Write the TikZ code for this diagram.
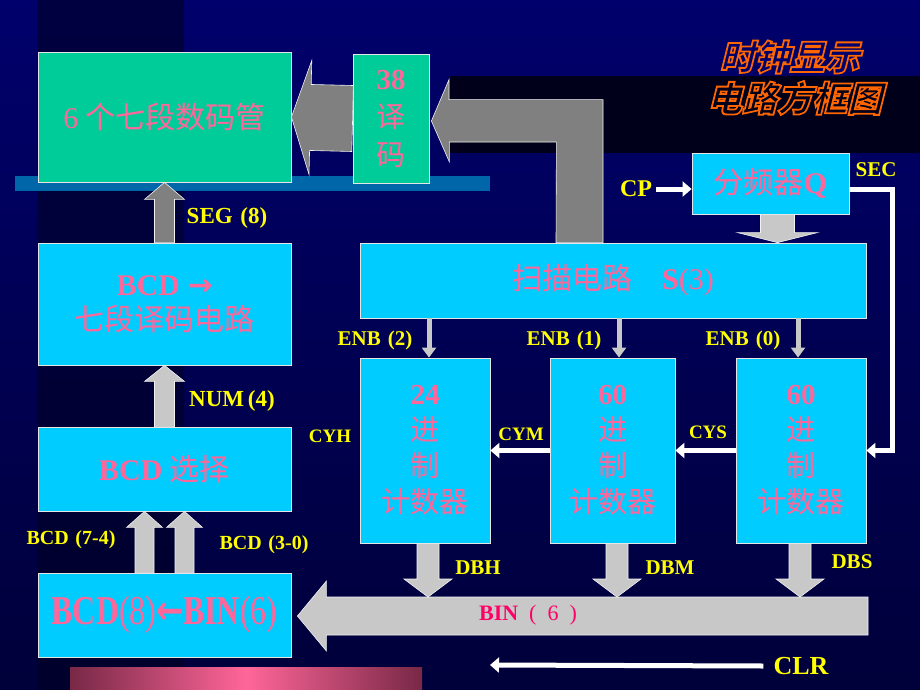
\documentclass[tikz,border=0pt]{standalone}
\usepackage{fontspec}
\usepackage{graphicx}
\setmainfont{Liberation Serif}
\newfontfamily\cjk{Noto Sans CJK SC}
\newfontfamily\symfont{DejaVu Sans}
\usetikzlibrary{arrows.meta,calc}

\definecolor{navytop}{RGB}{0,0,108}
\definecolor{navybot}{RGB}{0,0,58}
\definecolor{navyband}{RGB}{0,0,36}
\definecolor{nightbox}{RGB}{0,0,26}
\definecolor{stripe}{RGB}{0,102,170}
\definecolor{boxcyan}{RGB}{0,204,255}
\definecolor{boxgreen}{RGB}{0,204,153}
\definecolor{txtpink}{RGB}{255,102,153}
\definecolor{binred}{RGB}{255,0,102}
\definecolor{tagyellow}{RGB}{255,255,0}
\definecolor{pipelight}{RGB}{200,200,200}
\definecolor{pipedark}{RGB}{128,128,128}
\definecolor{barrose}{RGB}{255,102,153}
\definecolor{barplum}{RGB}{120,40,70}

\newcommand\zh[1]{{\cjk #1}}
\newcommand\arrowR{{\symfont\bfseries →}}
\newcommand\arrowL{{\symfont\bfseries ←}}
% orange outlined letters, filled with #1
\newcommand\hollow[2]{\textcolor{#1}{\special{pdf:literal direct 2 Tr 1.8 w 1 0.4 0 RG}#2\special{pdf:literal direct 0 Tr}}}

% fat arrow from #2 to #3: body half width, head half width, head length
\newcommand\fatarrow[6][]{%
  \coordinate (fa-h) at ($(#3)!#6!(#2)$);
  \filldraw[#1] ($(#2)!#4!90:(#3)$) -- ($(fa-h)!#4!90:(#3)$) -- ($(fa-h)!#5!90:(#3)$)
    -- (#3) -- ($(fa-h)!#5!-90:(#3)$) -- ($(fa-h)!#4!-90:(#3)$) -- ($(#2)!#4!-90:(#3)$) -- cycle;}

\tikzset{
  block/.style={draw=white!90!black, line width=0.8pt, fill=boxcyan, text=txtpink,
    inner sep=0pt, align=center, font=\fontsize{29}{36}\selectfont},
  gblock/.style={block, fill=boxgreen},
  tag/.style={text=tagyellow, inner sep=0pt, font=\bfseries\fontsize{21}{21}\selectfont},
  pipe/.style={fill=pipelight, draw=white!95!black, line width=0.6pt},
  darkpipe/.style={pipe, fill=pipedark},
  wire/.style={draw=white, line width=5pt, -{Triangle[length=9pt,width=15pt]}},
  enbline/.style={draw=pipelight, line width=5pt, -{Triangle[length=10pt,width=14pt]}},
  heading/.style={xslant=0.25, inner sep=0pt, font=\cjk\bfseries\fontsize{35}{35}\selectfont},
}

\begin{document}
\begin{tikzpicture}[x=1pt,y=-1pt]
  % backdrop
  \useasboundingbox (0,0) rectangle (920,690);
  \shade[top color=navytop, bottom color=navybot] (0,0) rectangle (920,690);
  \fill[navyband, opacity=0.6] (37,0) rectangle (184,690);
  \fill[nightbox] (450,76) rectangle (920,153);
  \fill[stripe] (15,176) rectangle (490,191);
  \shade[left color=barplum, right color=barplum, middle color=barrose] (70,667) rectangle (422,690);

  % blocks
  \node[gblock, minimum width=253, minimum height=130, font=\fontsize{30}{36}\selectfont]
    (disp) at (164.5,117) {6 \zh{个七段数码管}};
  \node[gblock, minimum width=76, minimum height=129, font=\fontsize{29}{38}\selectfont]
    (dec38) at (391,118.5) {\textbf{38}\\\zh{译}\\\zh{码}};
  \node[block, minimum width=253, minimum height=122, font=\fontsize{30}{35}\selectfont]
    (seg) at (164.5,304) {\textbf{BCD \arrowR}\\\zh{七段译码电路}};
  \node[block, minimum width=253, minimum height=84, font=\fontsize{30}{36}\selectfont]
    (sel) at (164.5,469) {\textbf{BCD} \zh{选择}};
  \node[block, minimum width=253, minimum height=84]
    (conv) at (164.5,615) {\scalebox{0.78}[1]{\fontsize{41}{41}\selectfont\textbf{BCD}(8)\arrowL\textbf{BIN}(6)}};
  \node[block, minimum width=157, minimum height=61, font=\fontsize{30}{36}\selectfont]
    (divq) at (770.5,183.5) {\zh{分频器}\textbf{Q}};
  \node[block, minimum width=506, minimum height=75, font=\fontsize{30}{36}\selectfont]
    (scan) at (613,280.5) {\zh{扫描电路}\quad\textbf{S}(3)};
  \node[block, minimum width=130, minimum height=185] (cntH) at (425,450.5)
    {\textbf{24}\\\zh{进}\\\zh{制}\\\zh{计数器}};
  \node[block, minimum width=125, minimum height=185] (cntM) at (612.5,450.5)
    {\textbf{60}\\\zh{进}\\\zh{制}\\\zh{计数器}};
  \node[block, minimum width=130, minimum height=185] (cntS) at (801,450.5)
    {\textbf{60}\\\zh{进}\\\zh{制}\\\zh{计数器}};

  % buses
  \fatarrow[darkpipe]{dec38.west}{disp.east}{33pt}{57pt}{19pt}
  \filldraw[darkpipe] ([xshift=-10pt]scan.north) -- ++(0,-143) -- ++(-154,0) -- ++(0,-20)
    -- ([xshift=2pt,yshift=-2.5pt]dec38.east) -- ++(18,41) -- ++(0,-20) -- ++(107,0)
    -- ([xshift=-57pt]scan.north) -- cycle;
  \fatarrow[darkpipe]{seg.north}{disp.south}{10pt}{20pt}{17pt}
  \fatarrow[pipe]{sel.north}{seg.south}{10pt}{20pt}{16pt}
  \coordinate (hiA) at ([xshift=-20pt]conv.north);
  \coordinate (hiB) at (hiA |- sel.south);
  \coordinate (loA) at ([xshift=20pt]conv.north);
  \coordinate (loB) at (loA |- sel.south);
  \fatarrow[pipe]{hiA}{hiB}{9.5pt}{18pt}{16pt}
  \fatarrow[pipe]{loA}{loB}{9.5pt}{18pt}{16pt}
  \coordinate (qa) at ([xshift=7pt]divq.south);
  \coordinate (qb) at (qa |- scan.north);
  \fatarrow[pipe]{qa}{qb}{17pt}{40pt}{10pt}

  \coordinate (binR) at (868,616);
  \coordinate (binTop) at (868,597);
  \coordinate (binL) at ($(conv.east |- binR)+(6,0)$);
  \fatarrow[pipe]{binR}{binL}{19pt}{35pt}{29pt}
  \coordinate (dbhA) at ([xshift=3pt]cntH.south);
  \coordinate (dbmA) at ([xshift=4.5pt]cntM.south);
  \coordinate (dbsA) at ([xshift=-1pt]cntS.south);
  \fatarrow[pipe]{dbhA}{dbhA |- binTop}{11pt}{24pt}{18pt}
  \fatarrow[pipe]{dbmA}{dbmA |- binTop}{11pt}{24pt}{18pt}
  \fatarrow[pipe]{dbsA}{dbsA |- binTop}{11pt}{24pt}{18pt}

  % enables
  \coordinate (enH) at ([xshift=4pt]cntH.north);
  \coordinate (enM) at ([xshift=6.5pt]cntM.north);
  \coordinate (enS) at ([xshift=-3pt]cntS.north);
  \draw[enbline] (enH |- scan.south) -- (enH);
  \draw[enbline] (enM |- scan.south) -- (enM);
  \draw[enbline] (enS |- scan.south) -- (enS);

  % labels
  \node[tag, font=\bfseries\fontsize{23}{23}\selectfont] (segtag) at (227,218) {SEG\,\,(8)};
  \node[tag, font=\bfseries\fontsize{23}{23}\selectfont] (numtag) at (232,401) {NUM\,(4)};
  \node[tag, font=\bfseries\fontsize{20}{20}\selectfont] (hitag) at (71,540) {BCD\,\,(7-4)};
  \node[tag, font=\bfseries\fontsize{20}{20}\selectfont] (lotag) at (264,545) {BCD\,\,(3-0)};
  \node[tag] (enHtag) at (375,340) {ENB\,\,(2)};
  \node[tag] (enMtag) at (564,340) {ENB\,\,(1)};
  \node[tag] (enStag) at (743,340) {ENB\,\,(0)};
  \node[tag, font=\bfseries\fontsize{19}{19}\selectfont] (cyh) at (330,436) {CYH};
  \node[tag, font=\bfseries\fontsize{19}{19}\selectfont] (cym) at (521,434) {CYM};
  \node[tag, font=\bfseries\fontsize{19}{19}\selectfont] (cys) at (708,432) {CYS};
  \node[tag] (dbh) at (478,568) {DBH};
  \node[tag] (dbm) at (670,568) {DBM};
  \node[tag] (dbs) at (852,562) {DBS};
  \node[tag, font=\bfseries\fontsize{24}{24}\selectfont] (cp) at (636,189) {CP};
  \node[tag, font=\bfseries\fontsize{21}{21}\selectfont] (sec) at (876,170) {SEC};
  \node[tag, font=\bfseries\fontsize{26}{26}\selectfont] (clr) at (801,666) {CLR};
  \node[tag, text=binred, font=\fontsize{22}{22}\selectfont] (bin) at (528,615)
    {\textbf{BIN}\enspace(\enspace6\enspace)};

  % control wires
  \draw[wire] ([xshift=4pt]cp.east) -- (divq.west |- cp);
  \draw[wire] ([yshift=-6pt]divq.east) -- ++(43,0) |- (cntS.east);
  \draw[wire] (cntS.west) -- (cntM.east);
  \draw[wire] (cntM.west) -- (cntH.east);
  \coordinate (clrEnd) at (490,665);
  \draw[wire] ([xshift=-10pt]clr.west) -- (clrEnd);

  % title
  \begin{scope}
    \node[heading] (ttlA) at (793,57) {\hollow{navytop}{时钟显示}};
    \node[heading] (ttlB) at (798,98) {\hollow{nightbox}{电路方框图}};
  \end{scope}
\end{tikzpicture}
\end{document}
